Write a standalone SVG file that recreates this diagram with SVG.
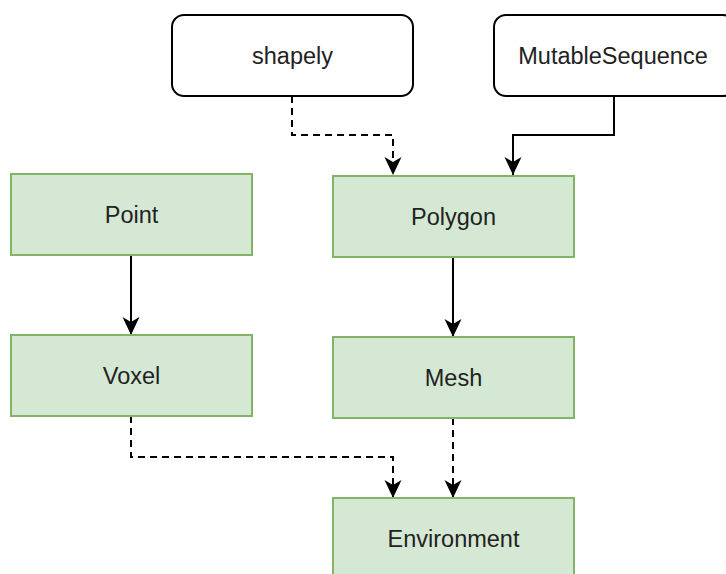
<svg xmlns="http://www.w3.org/2000/svg" width="726" height="574" viewBox="0 0 726 574">
<style>
.ext{fill:#ffffff;stroke:#000000;stroke-width:2}
.cls{fill:#d5e8d4;stroke:#82b366;stroke-width:2}
.lbl{font-family:"Liberation Sans",Arial,sans-serif;font-size:23.5px;fill:#222222;text-anchor:middle}
.e{fill:none;stroke:#000000;stroke-width:2}
.d{stroke-dasharray:7 5}
</style>
<defs>
<marker id="arr" markerUnits="userSpaceOnUse" markerWidth="22" markerHeight="22" viewBox="-20 -10 22 20" refX="0" refY="0" orient="auto">
<path d="M0,0 L-18,-8.5 L-13,0 L-18,8.5 Z" fill="#000000"/>
</marker>
</defs>
<rect width="726" height="574" fill="#ffffff"/>
<g id="edges">
<path class="e d" d="M292,96 V135 H393 V175" marker-end="url(#arr)"/>
<path class="e" d="M614,96 V135 H513 V175" marker-end="url(#arr)"/>
<path class="e" d="M131,255 V335" marker-end="url(#arr)"/>
<path class="e" d="M453,257 V337" marker-end="url(#arr)"/>
<path class="e d" d="M131,416 V457 H393 V498" marker-end="url(#arr)"/>
<path class="e d" d="M453,418 V498" marker-end="url(#arr)"/>
</g>
<g id="shapely">
<rect class="ext" x="172" y="15" width="241" height="81" rx="12"/>
<text class="lbl" x="292.5" y="64">shapely</text>
</g>
<g id="mutablesequence">
<rect class="ext" x="494" y="15" width="241" height="81" rx="12"/>
<text class="lbl" x="613" y="64">MutableSequence</text>
</g>
<g id="point">
<rect class="cls" x="11" y="174" width="241" height="81"/>
<text class="lbl" x="131.5" y="223">Point</text>
</g>
<g id="polygon">
<rect class="cls" x="333" y="176" width="241" height="81"/>
<text class="lbl" x="453.5" y="225">Polygon</text>
</g>
<g id="voxel">
<rect class="cls" x="11" y="335" width="241" height="81"/>
<text class="lbl" x="131.5" y="384">Voxel</text>
</g>
<g id="mesh">
<rect class="cls" x="333" y="337" width="241" height="81"/>
<text class="lbl" x="453.5" y="386">Mesh</text>
</g>
<g id="environment">
<rect class="cls" x="333" y="498" width="241" height="81"/>
<text class="lbl" x="453.5" y="547">Environment</text>
</g>
</svg>
